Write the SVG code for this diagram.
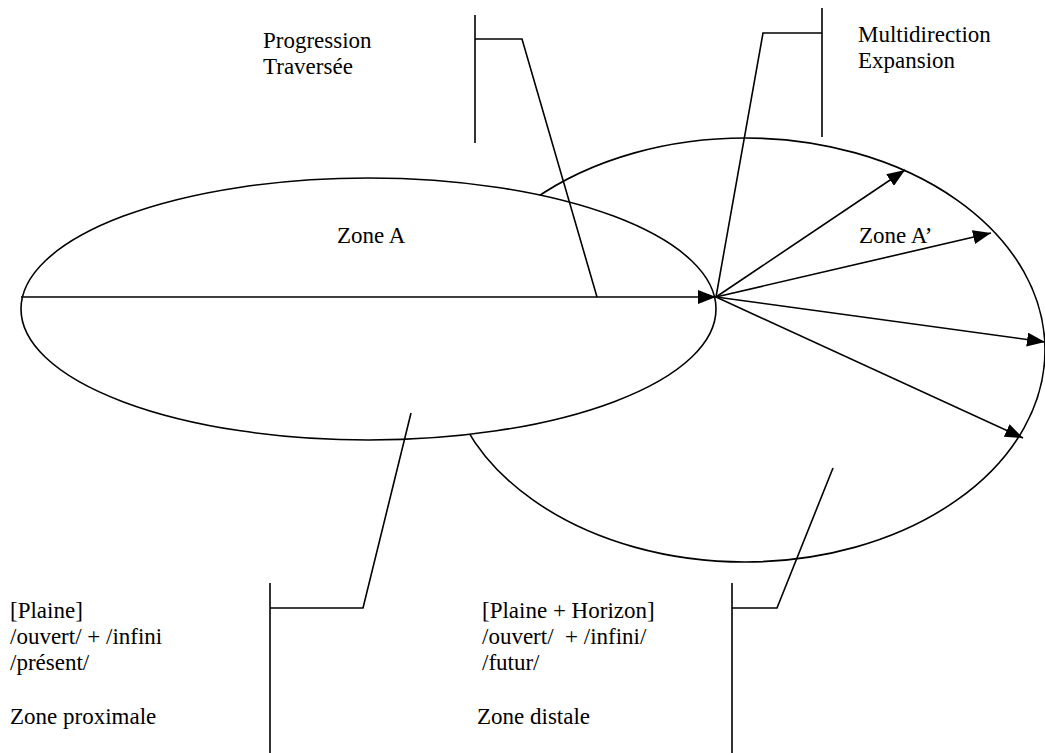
<svg xmlns="http://www.w3.org/2000/svg" width="1045" height="753" viewBox="0 0 1045 753">
<style>
.ln{fill:none;stroke:#000;stroke-width:1.6}
.el{stroke:#000;stroke-width:1.6}
text{font-family:'Liberation Serif','DejaVu Serif',serif;font-size:23px;fill:#000}
</style>
<defs>
<marker id="ah" markerUnits="userSpaceOnUse" markerWidth="20" markerHeight="14" refX="18" refY="7" orient="auto">
<path d="M0,0 L18,7 L0,14 Z" fill="#000"/>
</marker>
</defs>
<rect width="1045" height="753" fill="#fff"/>
<g id="zoneAprime"><ellipse class="el" cx="745" cy="350" rx="300" ry="212" fill="none"/></g>
<g id="zoneA"><ellipse class="el" cx="368.5" cy="309" rx="347.5" ry="131" fill="#fff"/>
<text x="337" y="243">Zone A</text></g>
<g id="zoneAprimeLabel"><text x="859" y="243">Zone A’</text></g>
<g id="connectors">
<line class="ln" x1="21" y1="297" x2="716" y2="297" marker-end="url(#ah)"/>
<line class="ln" x1="716" y1="297" x2="905" y2="170" marker-end="url(#ah)"/>
<line class="ln" x1="716" y1="297" x2="991" y2="233" marker-end="url(#ah)"/>
<line class="ln" x1="716" y1="297" x2="1045" y2="342" marker-end="url(#ah)"/>
<line class="ln" x1="716" y1="297" x2="1023" y2="438" marker-end="url(#ah)"/>
<polyline class="ln" points="475,39 522,39 597,297"/>
<line class="ln" x1="475" y1="15" x2="475" y2="143"/>
<polyline class="ln" points="822,33 763,33 716,297"/>
<line class="ln" x1="822" y1="8" x2="822" y2="137"/>
<polyline class="ln" points="270,608 363,608 411,413"/>
<line class="ln" x1="270" y1="583" x2="270" y2="753"/>
<polyline class="ln" points="732,608 777,608 833,468"/>
<line class="ln" x1="732" y1="583" x2="732" y2="753"/>
</g>
<g id="label-progression"><text x="263" y="48">Progression</text><text x="263" y="74">Traversée</text></g>
<g id="label-multidirection"><text x="858" y="42">Multidirection</text><text x="858" y="68">Expansion</text></g>
<g id="label-proximale"><text x="10" y="618">[Plaine]</text><text x="10" y="644">/ouvert/ + /infini</text><text x="10" y="670">/présent/</text><text x="10" y="724">Zone proximale</text></g>
<g id="label-distale"><text x="482" y="618">[Plaine + Horizon]</text><text x="482" y="644" xml:space="preserve">/ouvert/  + /infini/</text><text x="482" y="670">/futur/</text><text x="477" y="724">Zone distale</text></g>
</svg>
